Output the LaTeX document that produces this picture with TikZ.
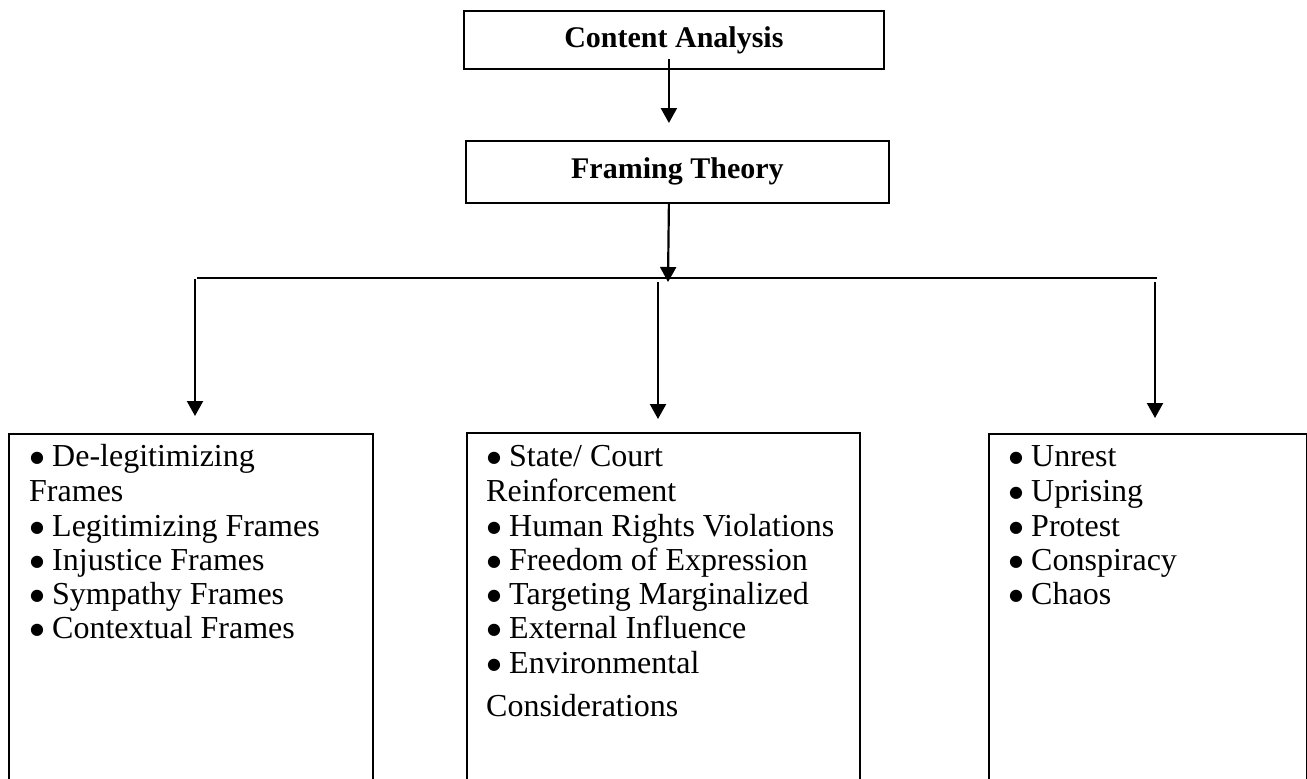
\documentclass[tikz,border=0pt]{standalone}
\usepackage{fontspec}
\usepackage{graphicx}
\setmainfont{Liberation Serif}
\newfontfamily\dejavu{DejaVu Sans}
\usetikzlibrary{arrows.meta,calc}
\newcommand{\bul}{\makebox[22pt][l]{\raisebox{3.5pt}{\dejavu\fontsize{16}{16}\selectfont ●}}}
\begin{document}
\begin{tikzpicture}[x=1pt,y=-1pt,
  box/.style={draw,line width=1.8pt,inner sep=0pt,anchor=north west},
  head/.style={font=\bfseries\fontsize{30}{36}\selectfont},
  item/.style={anchor=base west,inner sep=0pt,font=\fontsize{32}{34}\selectfont},
  arr/.style={line width=2.2pt,-{Triangle[length=15pt,width=16pt]}},
  conn/.style={line width=2pt}]
\useasboundingbox (0,0) rectangle (1307,779);
\clip (0,0) rectangle (1307,779);
% top boxes
\node[box,head,minimum width=420pt,minimum height=58pt] (ca) at (463,10) {Content Analysis};
\node[box,head,minimum width=423pt,minimum height=62pt] (ft) at (465,140) {Framing Theory};
% lower boxes
\node[box,minimum width=364pt,minimum height=400pt] (lb) at (8,433) {};
\node[box,minimum width=393pt,minimum height=400pt] (mb) at (466,432) {};
\node[box,minimum width=318pt,minimum height=400pt] (rb) at (988,433) {};
% connectors
\coordinate (hl) at (197,278);
\coordinate (hr) at (1157,278);
\coordinate (hm) at (668,278);
\coordinate (a1) at (195,279);
\coordinate (a2) at (658,282);
\coordinate (a3) at (1155,282);
\draw[arr] ($(ca.south)+(-5,-11)$) -- ($(ft.north)+(-8.5,-17)$);
\draw[arr] ($(ft.south)+(-8.5,0)$) -- ($(hm)+(0,4)$);
\draw[conn] (hl) -- (hr);
\draw[arr] (a1) -- ($(a1 |- lb.north)+(0,-17)$);
\draw[arr] (a2) -- ($(a2 |- mb.north)+(0,-13)$);
\draw[arr] (a3) -- ($(a3 |- rb.north)+(0,-15)$);
% left box text
\node[item] (l1) at (30,466) {\bul De-legitimizing};
\node[item] (l2) at (29,501) {Frames};
\node[item] (l3) at (30,536) {\bul Legitimizing Frames};
\node[item] (l4) at (30,570) {\bul Injustice Frames};
\node[item] (l5) at (30,604) {\bul Sympathy Frames};
\node[item] (l6) at (30,638) {\bul Contextual Frames};
% middle box text
\node[item] (m1) at (487,466) {\bul State/ Court};
\node[item] (m2) at (486,501) {Reinforcement};
\node[item] (m3) at (487,536) {\bul Human Rights Violations};
\node[item] (m4) at (487,570) {\bul Freedom of Expression};
\node[item] (m5) at (487,604) {\bul Targeting Marginalized};
\node[item] (m6) at (487,638) {\bul External Influence};
\node[item] (m7) at (487,673) {\bul Environmental};
\node[item] (m8) at (486,716) {Considerations};
% right box text
\node[item] (r1) at (1009,466) {\bul Unrest};
\node[item] (r2) at (1009,501) {\bul Uprising};
\node[item] (r3) at (1009,536) {\bul Protest};
\node[item] (r4) at (1009,570) {\bul Conspiracy};
\node[item] (r5) at (1009,604) {\bul Chaos};
\end{tikzpicture}
\end{document}
